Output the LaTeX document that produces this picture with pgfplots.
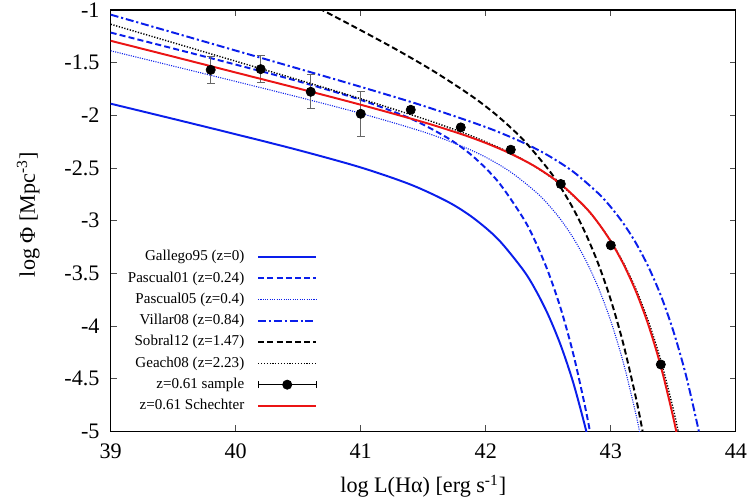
\documentclass[border=0pt]{standalone}
\usepackage{fontspec}
\setmainfont{Liberation Serif}
\usepackage{pgfplots}
\pgfplotsset{compat=1.18}

\definecolor{gpblue}{RGB}{10,30,235}
\definecolor{gpred}{RGB}{235,20,20}

\begin{document}
\begin{tikzpicture}
\useasboundingbox (-62.5pt,-39pt) rectangle (361pt,243.6pt);
\begin{axis}[
    scale only axis,
    width=353pt, height=238pt,
    font=\fontsize{12.5pt}{14pt}\selectfont,
    xmin=39, xmax=44, ymin=-5, ymax=-1,
    xtick={39,40,41,42,43,44},
    xticklabels={39,40,41,42,43,44},
    ytick={-5,-4.5,-4,-3.5,-3,-2.5,-2,-1.5,-1},
    yticklabels={-5,-4.5,-4,-3.5,-3,-2.5,-2,-1.5,-1},
    tick align=inside, tick pos=both,
    major tick length=3.5pt,
    tick style={black!70, line width=0.5pt},
    axis line style={line width=0.7pt},
    xticklabel style={yshift=-3.5pt},
    yticklabel style={xshift=-2.8pt},
    xlabel={log L(Hα) [erg s\textsuperscript{-1}]},
    ylabel={log Φ [Mpc\textsuperscript{-3}]},
    xlabel style={at={(axis description cs:0.5,-0.13)}, anchor=center},
    ylabel style={at={(axis description cs:-0.132,0.514)}, anchor=center},
    legend plot pos=right,
    legend cell align=right,
    legend image code/.code={\draw[#1] (0pt,0pt) -- (32.8pt,0pt);},
    legend style={at={(0.331,0.039)}, anchor=south east, draw=none, fill=none,
        font=\fontsize{8.5pt}{10pt}\selectfont,
        inner sep=0pt, row sep=2.2pt,
        nodes={inner sep=0.8pt, text height=6.2pt, text depth=2pt},
        /tikz/every odd column/.append style={column sep=6.5pt}},
]
% Gallego95 (z=0)
\addplot[gpblue, line width=1.1pt, smooth] coordinates {
 (39,-1.890) (39.5,-2.034) (40,-2.180) (40.5,-2.330) (41,-2.495) (41.4,-2.658)
 (41.7,-2.823) (41.9,-2.974) (42.1,-3.178) (42.3,-3.469) (42.4,-3.661) (42.5,-3.896)
 (42.6,-4.184) (42.7,-4.539) (42.8,-4.979) (42.85,-5.237)
};
\addlegendentry{Gallego95 (z=0)}
% Pascual01 (z=0.24)
\addplot[gpblue, line width=1.1pt, dash pattern=on 3.4pt off 1.8pt, smooth] coordinates {
 (39,-1.215) (39.5,-1.366) (40,-1.519) (40.5,-1.677) (41,-1.854) (41.4,-2.032)
 (41.7,-2.219) (41.9,-2.392) (42.1,-2.632) (42.3,-2.977) (42.4,-3.207) (42.5,-3.489)
 (42.6,-3.836) (42.7,-4.265) (42.8,-4.797) (42.85,-5.110)
};
\addlegendentry{Pascual01 (z=0.24)}
% Pascual05 (z=0.4)
\addplot[gpblue, line width=0.6pt, dash pattern=on 0.6pt off 0.7pt, smooth] coordinates {
 (39,-1.388) (39.5,-1.533) (40,-1.679) (40.5,-1.827) (41,-1.982) (41.5,-2.157)
 (41.8,-2.289) (42.0,-2.398) (42.2,-2.539) (42.4,-2.727) (42.5,-2.847) (42.6,-2.991)
 (42.7,-3.165) (42.8,-3.377) (42.9,-3.635) (43.0,-3.953) (43.1,-4.346) (43.2,-4.833)
 (43.25,-5.120)
};
\addlegendentry{Pascual05 (z=0.4)}
% Villar08 (z=0.84)
\addplot[gpblue, line width=1.1pt, dash pattern=on 4.5pt off 1.6pt on 1.2pt off 1.6pt, smooth] coordinates {
 (39,-1.045) (39.5,-1.215) (40,-1.386) (40.5,-1.557) (41,-1.730) (41.5,-1.910)
 (42.0,-2.112) (42.3,-2.260) (42.5,-2.382) (42.7,-2.536) (42.9,-2.741) (43.0,-2.871)
 (43.1,-3.025) (43.2,-3.211) (43.3,-3.436) (43.4,-3.710) (43.5,-4.047) (43.6,-4.462)
 (43.7,-4.976) (43.75,-5.277)
};
\addlegendentry{Villar08 (z=0.84)}
% Sobral12 (z=1.47)
\addplot[black, line width=1.1pt, dash pattern=on 3.4pt off 1.8pt, smooth] coordinates {
 (40.6,-0.944) (40.8,-1.068) (41.0,-1.193) (41.3,-1.386) (41.6,-1.594) (41.9,-1.828)
 (42.1,-2.012) (42.3,-2.233) (42.5,-2.513) (42.6,-2.686) (42.7,-2.887) (42.8,-3.126)
 (42.9,-3.410) (43.0,-3.752) (43.1,-4.168) (43.2,-4.676) (43.25,-4.971) (43.3,-5.299)
};
\addlegendentry{Sobral12 (z=1.47)}
% Geach08 (z=2.23)
\addplot[black, line width=0.8pt, dash pattern=on 0.7pt off 0.9pt, smooth] coordinates {
 (39,-1.136) (39.5,-1.311) (40,-1.487) (40.5,-1.663) (41,-1.843) (41.5,-2.032)
 (41.8,-2.157) (42.0,-2.252) (42.2,-2.360) (42.4,-2.491) (42.6,-2.658) (42.8,-2.881)
 (42.9,-3.023) (43.0,-3.193) (43.1,-3.399) (43.2,-3.648) (43.3,-3.953) (43.4,-4.327)
 (43.5,-4.790) (43.55,-5.061)
};
\addlegendentry{Geach08 (z=2.23)}
% z=0.61 sample
\addplot[black, only marks, mark=*, mark size=2.6pt,
    legend image code/.code={
        \draw[black, line width=0.6pt] (0pt,0pt) -- (32.8pt,0pt);
        \draw[black, line width=0.6pt] (0pt,-1.9pt) -- (0pt,1.9pt);
        \draw[black, line width=0.6pt] (32.8pt,-1.9pt) -- (32.8pt,1.9pt);
        \fill[black] (16.4pt,0pt) circle (2.6pt);},
    error bars/.cd, y dir=both, y explicit,
    error bar style={black!60, line width=0.6pt},
    error mark options={rotate=90, black!60, line width=0.6pt, mark size=2.2pt}]
coordinates {
 (39.8,-1.569) +- (0,0.127)
 (40.2,-1.562) +- (0,0.130)
 (40.6,-1.777) +- (0,0.161)
 (41.0,-1.986) +- (0,0.212)
 (41.4,-1.948) +- (0,0.030)
 (41.8,-2.115) +- (0,0.030)
 (42.2,-2.327) +- (0,0.030)
 (42.6,-2.652) +- (0,0.030)
 (43.0,-3.234) +- (0,0.030)
 (43.4,-4.365) +- (0,0.030)
};
\addlegendentry{z=0.61 sample}
% z=0.61 Schechter
\addplot[gpred, line width=1.1pt, smooth] coordinates {
 (39,-1.293) (39.5,-1.443) (40,-1.594) (40.5,-1.745) (41,-1.900) (41.5,-2.065)
 (41.8,-2.177) (42.0,-2.263) (42.2,-2.365) (42.4,-2.490) (42.6,-2.653) (42.8,-2.877)
 (42.9,-3.023) (43.0,-3.197) (43.1,-3.410) (43.2,-3.669) (43.3,-3.988) (43.4,-4.382)
 (43.5,-4.870) (43.55,-5.157)
};
\addlegendentry{z=0.61 Schechter}
\end{axis}
\end{tikzpicture}
\end{document}
